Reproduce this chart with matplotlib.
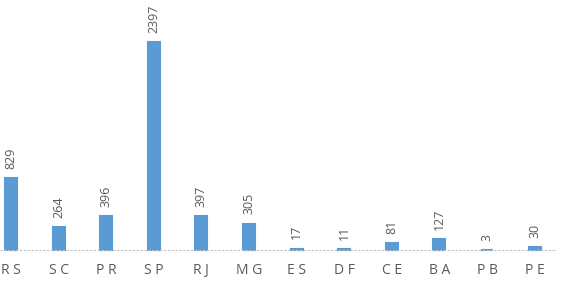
import matplotlib.pyplot as plt

# data
states = ['RS', 'SC', 'PR', 'SP', 'RJ', 'MG', 'ES', 'DF', 'CE', 'BA', 'PB', 'PE']
counts = [829, 264, 396, 2397, 397, 305, 17, 11, 81, 127, 3, 30]

plt.rcParams['font.family'] = ['Open Sans', 'DejaVu Sans']

fig = plt.figure(figsize=(5.63, 2.82), dpi=100)
ax = fig.add_axes([0, 30 / 282, 557 / 563, 252 / 282])

x = list(range(len(states)))
# edge in same colour so the tiny bars still show as a thin strip
ax.bar(x, counts, width=0.25, color='#5B9BD5', edgecolor='#5B9BD5', lw=1.5, zorder=2)

for xi, v in zip(x, counts):
    ax.annotate(str(v), (xi, v), xytext=(0, 6.5), textcoords='offset points',
                rotation=90, ha='center', va='bottom', fontsize=9, color='#595959')

ax.set_xlim(-0.23, 11.47)
ax.set_ylim(-23, 2880)
ax.axhline(0, color='#BFBFBF', lw=0.8, ls=(0, (2, 1.5)), zorder=3)

ax.set_xticks(x)
ax.set_xticklabels([' '.join(s) for s in states], fontsize=10, color='#595959')
ax.tick_params(axis='x', length=0, pad=8)
ax.set_yticks([])
for s in ax.spines.values():
    s.set_visible(False)

fig.savefig('out.png', dpi=100)
